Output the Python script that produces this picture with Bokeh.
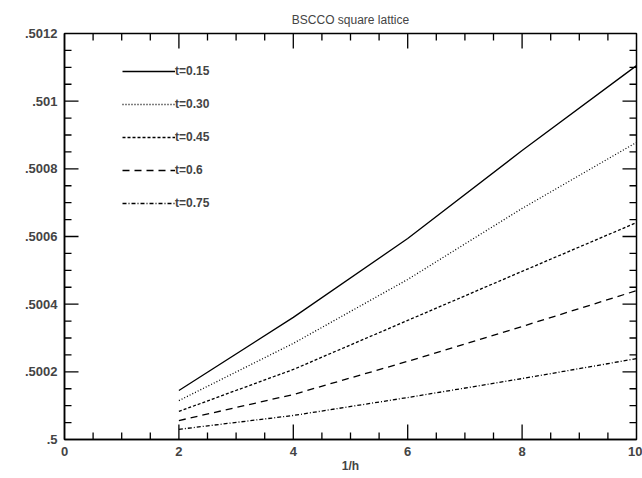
from bokeh.plotting import figure
from bokeh.models import (FixedTicker, CustomJSTickFormatter, Legend,
                          LegendItem, Range1d, Label)
from bokeh.embed import file_html
from bokeh.resources import INLINE

# 1/h sample points and omega for each temperature
inv_h = [2, 4, 6, 8, 10]
omega_t015 = [0.500145, 0.500361, 0.500594, 0.500854, 0.501105]
omega_t030 = [0.500115, 0.500284, 0.500473, 0.500683, 0.500878]
omega_t045 = [0.500083, 0.500207, 0.500352, 0.500497, 0.500641]
omega_t060 = [0.500056, 0.500133, 0.500231, 0.500334, 0.500440]
omega_t075 = [0.500030, 0.500071, 0.500124, 0.500180, 0.500239]

labels = ["t=0.15", "t=0.30", "t=0.45", "t=0.6", "t=0.75"]
series = [omega_t015, omega_t030, omega_t045, omega_t060, omega_t075]
dashes = ["solid", "1 2", "3 2", "7 5", "4 2 1 2"]

x_major = [0, 2, 4, 6, 8, 10]
x_minor = [i * 0.5 for i in range(21)]
y_major = [0.5 + 0.0002 * k for k in range(7)]
y_minor = [0.5 + 0.00005 * k for k in range(25)]

X0, X1 = 0, 10
Y0, Y1 = 0.5, 0.5012

FONT = "Liberation Sans"

p = figure(width=642, height=478, output_backend="svg", toolbar_location=None,
           x_range=Range1d(X0, X1), y_range=Range1d(Y0, Y1),
           min_border_left=64, min_border_right=6, min_border_bottom=39,
           min_border_top=33)
p.title.text = "BSCCO square lattice"
p.title.align = "center"
p.title.vertical_align = "top"
p.title.text_font = FONT
p.title.text_font_size = "12px"
p.title.text_font_style = "normal"
p.grid.visible = False
p.outline_line_color = "black"
p.outline_line_width = 1.5
p.background_fill_color = "white"
p.border_fill_color = "white"

fmt_y = CustomJSTickFormatter(code="""
let s = tick.toFixed(4).replace(/0+$/, '');
return s.replace(/^0/, '');
""")

p.xaxis.ticker = FixedTicker(ticks=x_major, minor_ticks=x_minor)
p.yaxis.ticker = FixedTicker(ticks=y_major, minor_ticks=y_minor)
p.yaxis.formatter = fmt_y
p.xaxis.axis_label = "1/h"

for ax in (p.xaxis[0], p.yaxis[0]):
    ax.major_tick_in = 0
    ax.major_tick_out = 0
    ax.minor_tick_in = 0
    ax.minor_tick_out = 0
    ax.axis_line_width = 1.5
    ax.major_label_text_font = FONT
    ax.major_label_text_font_size = "13px"
    ax.major_label_text_font_style = "bold"
    ax.major_label_standoff = 7
    ax.axis_label_text_font = FONT
    ax.axis_label_text_font_size = "12px"
    ax.axis_label_text_font_style = "bold"

p.xaxis.axis_label_standoff = 0

# inward tick marks on all four edges, drawn from the tick lists
def ticks(xs, ys, length, angle):
    p.ray(xs, ys, length=length, angle=angle, length_units="screen",
          line_color="black", line_width=1.3)

x_minor_only = [t for t in x_minor if t not in x_major]
y_minor_only = [t for t in y_minor if min(abs(t - m) for m in y_major) > 1e-9]
x_inner = x_major[1:-1]
y_inner = y_major[1:-1]

ticks(x_inner, [Y0] * len(x_inner), 15, 1.5708)
ticks(x_minor_only, [Y0] * len(x_minor_only), 7, 1.5708)
ticks(x_inner, [Y1] * len(x_inner), 15, -1.5708)
ticks(x_minor_only, [Y1] * len(x_minor_only), 7, -1.5708)
ticks([X0] * len(y_inner), y_inner, 14, 0)
ticks([X0] * len(y_minor_only), y_minor_only, 7, 0)
ticks([X1] * len(y_inner), y_inner, 14, 3.14159)
ticks([X1] * len(y_minor_only), y_minor_only, 7, 3.14159)

items = []
for lab, ys, dash in zip(labels, series, dashes):
    r = p.line(inv_h, ys, line_color="black", line_width=1.3, line_dash=dash)
    items.append(LegendItem(label=lab, renderers=[r]))

legend = Legend(items=items, location=(58, 226), glyph_width=53, glyph_height=20,
                label_height=20, spacing=13, padding=0, margin=0, label_standoff=0,
                border_line_color=None, background_fill_alpha=0,
                label_text_font=FONT, label_text_font_size="12px",
                label_text_font_style="bold")
p.add_layout(legend, "center")

p.add_layout(Label(x=-53, y=0.50058, x_units="screen", text="ω",
                   text_font=FONT, text_font_size="13px",
                   text_baseline="middle", text_align="center"))

open("out.html", "w").write(file_html(p, INLINE))
